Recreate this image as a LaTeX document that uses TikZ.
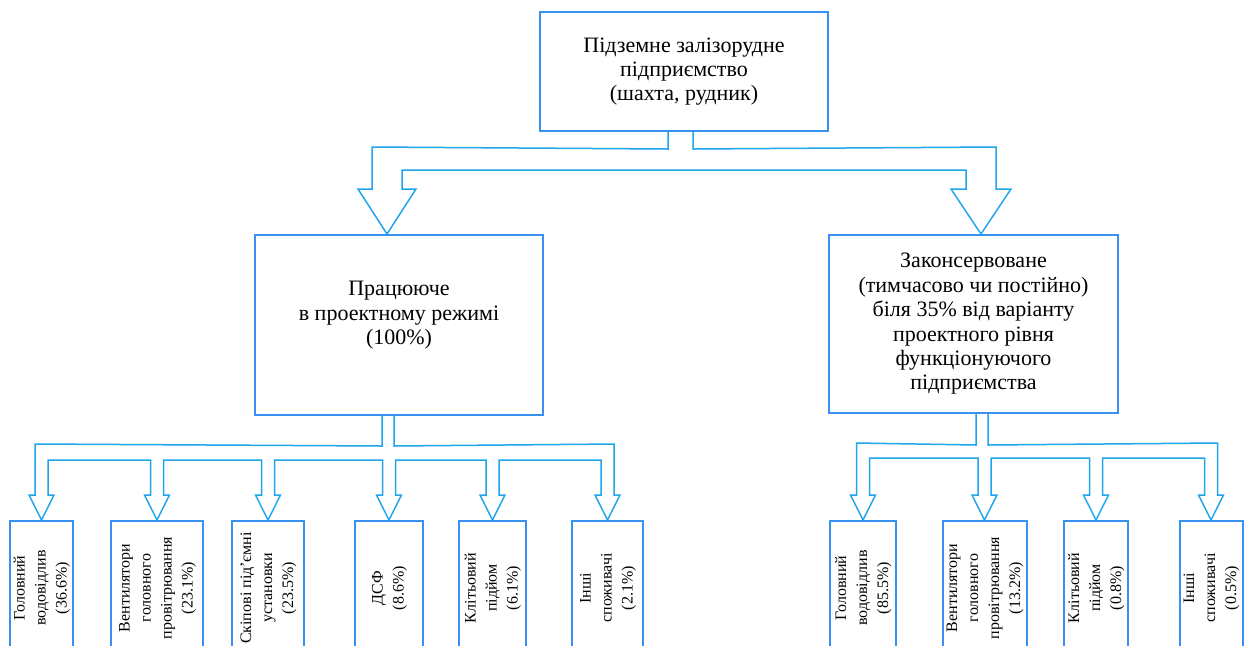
\documentclass[tikz,border=0pt]{standalone}
\usepackage{fontspec}
\setmainfont{Liberation Serif}
\usepackage{xcolor}
\usetikzlibrary{calc}
\definecolor{boxblue}{RGB}{55,145,240}
\definecolor{busblue}{RGB}{30,165,235}
\tikzset{
    block/.style={draw=boxblue, line width=1pt, fill=white, align=center,
        inner sep=0pt, font=\fontsize{11}{12.2}\selectfont},
    leaf/.style={draw=boxblue, line width=1pt, fill=white, inner sep=0pt,
        minimum height=67pt, font=\fontsize{8}{10.5}\selectfont},
    bus/.style={draw=busblue, line width=0.75pt, line join=miter}
}
\newcommand{\vtext}[1]{\rotatebox{90}{\begin{tabular}{@{}c@{}}#1\end{tabular}}}

\begin{document}
\begin{tikzpicture}[x=0.5pt, y=-0.5pt]
            \useasboundingbox (0,0) rectangle (1250,645);
            \clip (0,0) rectangle (1250,645);

            % Upper boxes
            \node [block, minimum width=144pt, minimum height=59.5pt] (mine) at (684,71.5)
                {Підземне залізорудне\\підприємство\\(шахта, рудник)};
            \node [block, minimum width=144pt, minimum height=90pt] (work) at (399,325)
                {Працююче\\в проектному режимі\\(100\%)\\\mbox{}};
            \node [block, minimum width=144.5pt, minimum height=89pt] (cons) at (973.5,324)
                {Законсервоване\\(тимчасово чи постійно)\\біля 35\% від варіанту\\проектного рівня\\функціонуючого\\підприємства};

            % Consumers of the working mine
            \node [leaf, minimum width=30.5pt] (lw1) at (41.5,588) {\vtext{Головний\\водовідлив\\(36.6\%)}};
            \node [leaf, minimum width=46pt]   (lw2) at (157,588)  {\vtext{Вентилятори\\головного\\провітрювання\\(23.1\%)}};
            \node [leaf, minimum width=36pt]   (lw3) at (268,588)  {\vtext{Скіпові під’ємні\\установки\\(23.5\%)}};
            \node [leaf, minimum width=34pt]   (lw4) at (389,588)  {\vtext{ДСФ\\(8.6\%)}};
            \node [leaf, minimum width=33.5pt] (lw5) at (492.5,588) {\vtext{Клітьовий\\підйом\\(6.1\%)}};
            \node [leaf, minimum width=35.5pt] (lw6) at (607.5,588) {\vtext{Інші\\споживачі\\(2.1\%)}};

            % Consumers of the conserved mine
            \node [leaf, minimum width=33pt]   (lc1) at (863,588)  {\vtext{Головний\\водовідлив\\(85.5\%)}};
            \node [leaf, minimum width=41.5pt] (lc2) at (984.5,588) {\vtext{Вентилятори\\головного\\провітрювання\\(13.2\%)}};
            \node [leaf, minimum width=32pt]   (lc3) at (1096,588) {\vtext{Клітьовий\\підйом\\(0.8\%)}};
            \node [leaf, minimum width=31pt]   (lc4) at (1211,588) {\vtext{Інші\\споживачі\\(0.5\%)}};

            % Upper fork
            \coordinate (tipW) at ($(work.north)+(-12,0)$);
            \coordinate (tipC) at ($(cons.north)+(7.5,0)$);
            \draw [bus] ($(mine.south)+(-16,0)$) -- ($(mine.south)+(-16,17)$)
                -- ($(tipW)+(-15,-87)$) -- ($(tipW)+(-15,-45)$) -- ($(tipW)+(-29,-45)$) -- (tipW)
                -- ($(tipW)+(29,-45)$) -- ($(tipW)+(15,-45)$) -- ($(tipW)+(15,-64)$)
                -- ($(tipC)+(-15,-64)$) -- ($(tipC)+(-15,-45)$) -- ($(tipC)+(-30,-45)$) -- (tipC)
                -- ($(tipC)+(30,-45)$) -- ($(tipC)+(15,-45)$) -- ($(tipC)+(15,-87)$)
                -- ($(mine.south)+(9,17)$) -- ($(mine.south)+(9,0)$);

            % Left fork
            \draw [bus] ($(work.south)+(-17,0)$) -- ($(work.south)+(-17,30)$) -- ($(lw1.north)+(-6.5,-76)$)
                \foreach \leafname in {lw1,lw2,lw3,lw4,lw5,lw6} {
                    -- ($(\leafname.north)+(-6.5,-60)$) -- ($(\leafname.north)+(-6.5,-25)$)
                    -- ($(\leafname.north)+(-12.5,-25)$) -- (\leafname.north)
                    -- ($(\leafname.north)+(12.5,-25)$) -- ($(\leafname.north)+(6.5,-25)$)
                    -- ($(\leafname.north)+(6.5,-60)$)
                }
                -- ($(lw6.north)+(6.5,-76)$) -- ($(work.south)+(-5,30)$) -- ($(work.south)+(-5,0)$);

            % Right fork
            \draw [bus] ($(cons.south)+(2.5,0)$) -- ($(cons.south)+(2.5,31)$) -- ($(lc1.north)+(-6.5,-77)$)
                \foreach \leafname in {lc1,lc2,lc3,lc4} {
                    -- ($(\leafname.north)+(-6.5,-62)$) -- ($(\leafname.north)+(-6.5,-25)$)
                    -- ($(\leafname.north)+(-12.5,-25)$) -- (\leafname.north)
                    -- ($(\leafname.north)+(12.5,-25)$) -- ($(\leafname.north)+(6.5,-25)$)
                    -- ($(\leafname.north)+(6.5,-62)$)
                }
                -- ($(lc4.north)+(6.5,-77)$) -- ($(cons.south)+(14.5,31)$) -- ($(cons.south)+(14.5,0)$);

        \end{tikzpicture}
\end{document}
